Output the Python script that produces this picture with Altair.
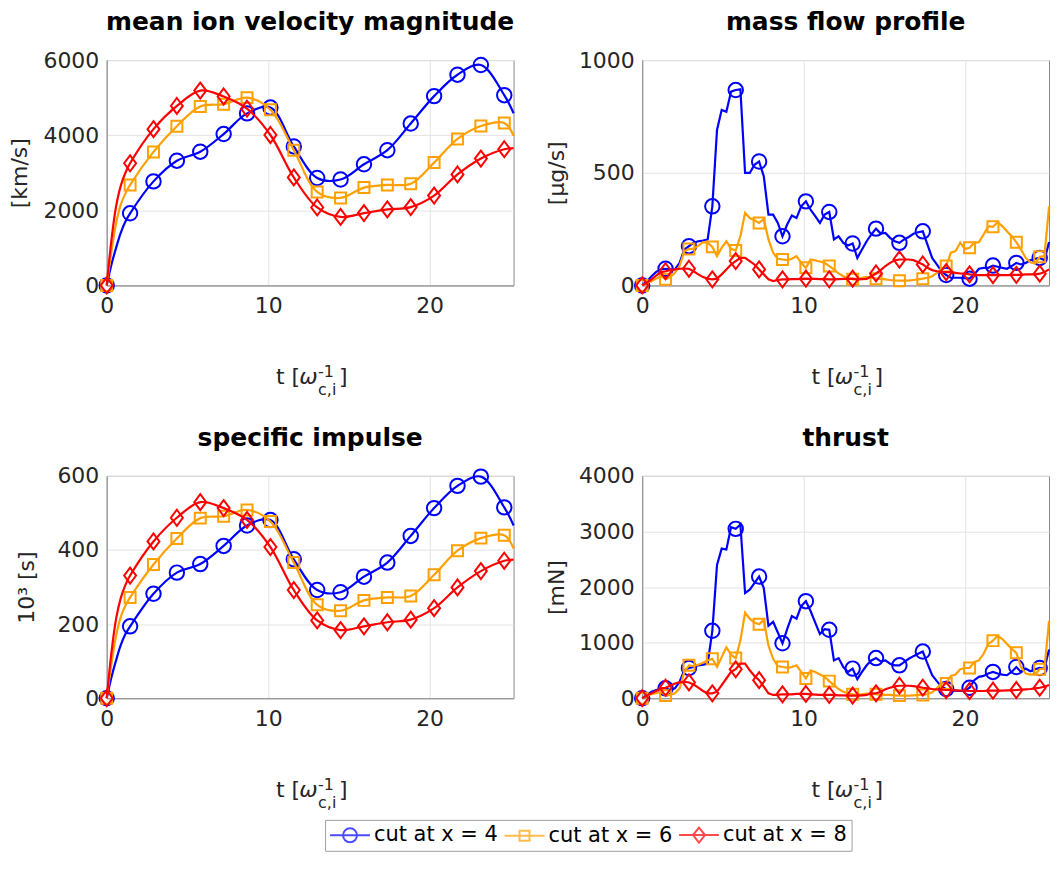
import altair as alt
import pandas as pd

FONT = "DejaVu Sans"
DARK = "#262626"
AXC = "#8a8a8a"

# time grid of the simulation output (88 samples, markers every 5th sample)
DT = 0.2897
T = [round(i * DT, 4) for i in range(88)]
X_MAX = 25.2

SERIES = ["cut at x = 4", "cut at x = 6", "cut at x = 8"]
COLORS = ["#0000ff", "#ffa000", "#ff0000"]
SHAPES = ["circle", "square", "M0,-1L0.75,0L0,1L-0.75,0Z"]
SIZES = [210, 121, 256]
LEGEND_SHAPES = [
    "M-1,0H3M1.7,0A0.7,0.7,0,1,1,0.3,0A0.7,0.7,0,1,1,1.7,0",
    "M-1,0H3M0.5,-0.5H1.5V0.5H0.5Z",
    "M-1,0H3M1,-0.75L1.6,0L1,0.75L0.4,0Z",
]

# ---- mean ion velocity magnitude [km/s] (values at marker times, early samples, last sample)
VEL_MARK = [
    [0, 1920, 2770, 3320, 3560, 4030, 4580, 4735, 3700, 2860, 2820, 3225, 3600, 4310, 5040, 5610, 5868, 5065],
    [0, 2675, 3555, 4240, 4765, 4825, 5000, 4676, 3600, 2490, 2330, 2605, 2675, 2708, 3270, 3900, 4243, 4327],
    [0, 3252, 4160, 4778, 5188, 5030, 4705, 4005, 2875, 2075, 1823, 1925, 2023, 2085, 2391, 2954, 3378, 3626],
]
VEL_EARLY = [[550, 1000, 1400, 1700], [900, 1650, 2150, 2450], [1200, 2100, 2650, 3000]]
VEL_END = [4584, 3983, 3655]

# ---- specific impulse [10^3 s]
ISP_MARK = [
    [0, 194, 282, 339, 362, 411, 466, 481, 375, 292, 286, 328, 366, 438, 513, 573, 598, 515],
    [0, 272, 361, 431, 486, 491, 508, 477, 366, 252, 236, 264, 272, 276, 333, 398, 432, 440],
    [0, 331, 423, 487, 529, 513, 481, 408, 292, 210, 184, 194, 205, 212, 243, 299, 343, 371],
]
ISP_EARLY = [[56, 102, 143, 173], [92, 168, 219, 250], [122, 214, 270, 306]]
ISP_END = [466, 404, 374]

# ---- mass flow [ug/s], every sample
MF = [
    [0, 19, 41, 60, 71, 74, 71, 71, 100, 159, 174, 189, 196, 199, 204, 351, 690, 779, 771, 860,
     867, 870, 499, 499, 535, 550, 484, 314, 314, 277, 218, 270, 310, 299, 351, 373, 336, 307, 277, 314,
     326, 204, 218, 189, 177, 186, 122, 159, 196, 226, 252, 230, 233, 211, 196, 189, 204, 215, 229, 236,
     240, 181, 122, 93, 63, 46, 34, 34, 34, 32, 30, 49, 74, 78, 78, 88, 83, 78, 74, 86,
     100, 93, 100, 112, 118, 122, 112, 192],
    [0, 12, 19, 30, 41, 27, 37, 56, 86, 152, 162, 162, 177, 192, 189, 171, 130, 167, 196, 162,
     155, 218, 322, 299, 289, 277, 295, 204, 145, 118, 115, 112, 118, 130, 100, 78, 115, 111, 106, 100,
     86, 71, 53, 41, 32, 27, 27, 34, 38, 34, 30, 30, 27, 24, 22, 21, 21, 21, 24, 27,
     30, 34, 41, 56, 74, 86, 145, 152, 189, 162, 167, 189, 192, 226, 263, 260, 280, 263, 240, 218,
     192, 159, 122, 103, 97, 127, 130, 351],
    [0, 12, 27, 44, 59, 63, 68, 71, 74, 75, 74, 63, 49, 37, 30, 27, 30, 49, 71, 93,
     108, 122, 122, 108, 93, 71, 49, 27, 19, 24, 27, 27, 28, 28, 29, 30, 29, 29, 28, 28,
     27, 27, 28, 29, 29, 30, 27, 28, 29, 41, 53, 68, 86, 100, 111, 115, 115, 115, 112, 103,
     93, 78, 68, 63, 60, 59, 59, 56, 53, 52, 49, 47, 46, 46, 46, 46, 46, 46, 46, 47,
     47, 47, 49, 49, 49, 52, 59, 71],
]

# ---- thrust [mN], every sample
TH = [
    [0, 59, 118, 148, 166, 178, 148, 178, 296, 503, 544, 562, 592, 604, 621, 1213, 2396, 2692, 2675, 3077,
     3047, 3124, 1893, 1953, 2071, 2189, 1982, 1302, 1373, 1183, 988, 1243, 1479, 1432, 1657, 1746, 1568, 1361, 1154, 1243,
     1231, 680, 722, 562, 473, 533, 343, 473, 592, 680, 722, 663, 680, 621, 592, 592, 651, 710, 757, 799,
     840, 621, 414, 308, 207, 166, 136, 136, 130, 136, 189, 325, 385, 402, 444, 473, 444, 426, 414, 473,
     562, 473, 533, 485, 521, 544, 533, 876],
    [0, 47, 71, 89, 118, 47, 59, 89, 178, 473, 592, 580, 604, 639, 680, 710, 562, 740, 917, 781,
     722, 1036, 1538, 1432, 1361, 1331, 1408, 947, 710, 580, 562, 550, 562, 592, 473, 355, 503, 473, 426, 385,
     308, 237, 166, 118, 89, 71, 59, 71, 83, 83, 71, 59, 59, 59, 53, 47, 47, 47, 53, 59,
     59, 71, 107, 178, 266, 266, 402, 426, 521, 544, 544, 651, 680, 799, 976, 1036, 1124, 1065, 976, 888,
     817, 562, 444, 426, 432, 521, 533, 1390],
    [0, 47, 89, 130, 178, 189, 225, 266, 284, 296, 284, 249, 189, 130, 89, 89, 118, 237, 355, 473,
     521, 621, 621, 503, 402, 325, 207, 89, 59, 59, 71, 71, 71, 77, 77, 77, 71, 65, 59, 59,
     59, 59, 53, 53, 47, 47, 47, 53, 59, 89, 89, 118, 160, 189, 213, 225, 225, 225, 219, 207,
     189, 178, 166, 160, 154, 148, 148, 142, 136, 136, 130, 130, 130, 130, 136, 136, 136, 136, 142, 142,
     148, 154, 160, 166, 178, 189, 207, 237],
]

TITLES = ["mean ion velocity magnitude", "mass flow profile", "specific impulse", "thrust"]
YTITLES = ["[km/s]", "[μg/s]", "10³ [s]", "[mN]"]

MARK_IDX = list(range(0, 86, 5))
SMOOTH_IDX = [0, 1, 2, 3, 4] + list(range(5, 86, 5)) + [87]

W = 408


def smooth_series(marks, early, end):
    vals = [marks[0]] + early + marks[1:] + [end]
    line = pd.DataFrame({"t": [T[i] for i in SMOOTH_IDX], "v": vals})
    pts = pd.DataFrame({"t": [T[i] for i in MARK_IDX], "v": marks})
    return line, pts


def jagged_series(vals):
    line = pd.DataFrame({"t": T, "v": vals})
    pts = pd.DataFrame({"t": [T[i] for i in MARK_IDX], "v": [vals[i] for i in MARK_IDX]})
    return line, pts


def panel(data, title, ytitle, ymax, ystep, height, title_x, interp, with_legend=False):
    x = alt.X("t:Q", scale=alt.Scale(domain=[0, X_MAX], nice=False, zero=False),
              axis=alt.Axis(values=[0, 10, 20], title=None, labelPadding=10, grid=True, format="d"))
    y = alt.Y("v:Q", scale=alt.Scale(domain=[0, ymax], nice=False),
              axis=alt.Axis(values=list(range(0, ymax + 1, ystep)), title=ytitle, format="d",
                            titleX=title_x, titleY=height / 2, titleAngle=270,
                            titleAlign="center", titleBaseline="bottom",
                            labelPadding=8, grid=True))
    layers = []
    for k in range(3):
        line_df, pts_df = data[k]
        layers.append(alt.Chart(line_df).mark_line(color=COLORS[k], strokeWidth=2.2,
                                                   interpolate=interp).encode(x=x, y=y))
        layers.append(alt.Chart(pts_df).mark_point(shape=SHAPES[k], size=SIZES[k], color=COLORS[k],
                                                   filled=False, strokeWidth=2, opacity=1)
                      .encode(x=x, y=y))
    one = alt.Chart(pd.DataFrame({"k": [0]}))
    base_y = height + 99
    layers += [
        one.mark_text(text=title, align="center", baseline="alphabetic", fontSize=25, font=FONT,
                      fontWeight="bold", color="black").encode(x=alt.value(W / 2), y=alt.value(-30)),
        one.mark_text(text="t [", align="right", baseline="alphabetic", fontSize=22, font=FONT,
                      color=DARK).encode(x=alt.value(194), y=alt.value(base_y)),
        one.mark_text(text="ω", align="left", baseline="alphabetic", fontSize=22, font=FONT,
                      fontStyle="italic", color=DARK).encode(x=alt.value(193), y=alt.value(base_y)),
        one.mark_text(text="-1", align="left", baseline="alphabetic", fontSize=16, font=FONT,
                      color=DARK).encode(x=alt.value(212), y=alt.value(base_y - 7)),
        one.mark_text(text="c,i", align="left", baseline="alphabetic", fontSize=16, font=FONT,
                      color=DARK).encode(x=alt.value(212), y=alt.value(base_y + 11)),
        one.mark_text(text="]", align="left", baseline="alphabetic", fontSize=22, font=FONT,
                      color=DARK).encode(x=alt.value(233), y=alt.value(base_y)),
    ]
    if with_legend:
        leg = alt.Legend(title=None, orient="none", legendX=219, legendY=762, direction="horizontal",
                         columns=3, labelFont=FONT, labelFontSize=21, labelColor="black",
                         symbolSize=400, symbolStrokeWidth=2, labelOffset=23, columnPadding=2,
                         padding=4, strokeColor="#a0a0a0", fillColor="white", labelLimit=400)
        legend_df = pd.DataFrame({"t": [0.0] * 3, "v": [0.0] * 3, "s": SERIES})
        layers.append(
            alt.Chart(legend_df).transform_filter("false")
            .mark_point(filled=False, strokeWidth=2)
            .encode(x=x, y=y,
                    color=alt.Color("s:N", scale=alt.Scale(domain=SERIES, range=COLORS), legend=leg),
                    shape=alt.Shape("s:N", scale=alt.Scale(domain=SERIES, range=LEGEND_SHAPES), legend=leg))
        )
    return alt.layer(*layers).properties(width=W, height=height)


vel = [smooth_series(VEL_MARK[k], VEL_EARLY[k], VEL_END[k]) for k in range(3)]
isp = [smooth_series(ISP_MARK[k], ISP_EARLY[k], ISP_END[k]) for k in range(3)]
mf = [jagged_series(MF[k]) for k in range(3)]
th = [jagged_series(TH[k]) for k in range(3)]

p1 = panel(vel, TITLES[0], YTITLES[0], 6000, 2000, 226, -75, "catmull-rom")
p2 = panel(mf, TITLES[1], YTITLES[1], 1000, 500, 226, -74, "linear")
p3 = panel(isp, TITLES[2], YTITLES[2], 600, 200, 223, -68, "catmull-rom", with_legend=True)
p4 = panel(th, TITLES[3], YTITLES[3], 4000, 1000, 223, -74, "linear")

chart = alt.concat(p1, p2, p3, p4, columns=2, spacing={"row": 191, "column": 129}, bounds="flush").properties(
    padding={"left": 0, "top": 0, "right": 0, "bottom": 0}
).configure_view(stroke=AXC, strokeWidth=1).configure_axis(
    labelFont=FONT, titleFont=FONT, labelFontSize=22, titleFontSize=22,
    labelColor=DARK, titleColor=DARK, titleFontWeight="normal",
    domainColor=AXC, gridColor="#e3e3e3", ticks=False, tickSize=0,
    labelFlush=False, labelOverlap=False,
)

chart.save("out.html", embed_options={"renderer": "svg", "actions": False})
